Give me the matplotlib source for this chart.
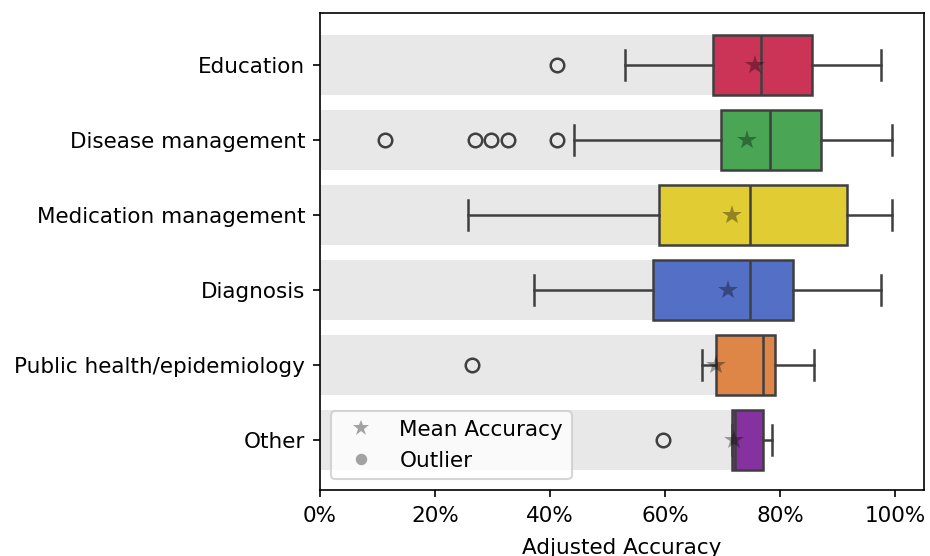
import matplotlib
matplotlib.use("Agg")
import matplotlib.pyplot as plt
from matplotlib.lines import Line2D
from matplotlib.ticker import FuncFormatter

categories = ["Education", "Disease management", "Medication management",
              "Diagnosis", "Public health/epidemiology", "Other"]
colors = ["#CB3357", "#4AA655", "#E1CC33", "#546FC6", "#DE8548", "#8631A0"]

# box statistics, in percent
whislo = [53.0, 44.1, 25.8, 37.3, 66.4, 71.6]
q1 = [68.3, 69.7, 58.9, 57.9, 68.9, 71.6]
med = [76.7, 78.2, 74.7, 74.7, 77.1, 72.2]
q3 = [85.6, 87.1, 91.6, 82.2, 79.1, 77.1]
whishi = [97.5, 99.5, 99.5, 97.5, 85.9, 78.6]
means = [75.6, 74.2, 71.6, 70.9, 68.8, 71.9]
fliers = [[41.2], [11.3, 27.0, 29.8, 32.7, 41.2], [], [], [26.5], [59.7]]

FS = 10.3

fig = plt.figure(figsize=(6.2, 556 / 150), dpi=150)
ax = fig.add_axes([0.344, 0.1187, 0.6495, 0.858])

pos = list(range(len(categories)))

# mean accuracy as a gray bar behind each box
ax.barh(pos, means, height=0.8, color="#e8e8e8", zorder=0)

stats = []
for i, name in enumerate(categories):
    stats.append(dict(label=name, whislo=whislo[i], q1=q1[i], med=med[i],
                      q3=q3[i], whishi=whishi[i], mean=means[i],
                      fliers=fliers[i]))

edge = "#3f3f3f"
star = (0, 0, 0, 0.35)
bp = ax.bxp(stats, positions=pos, widths=0.8, orientation="horizontal",
            patch_artist=True, showmeans=True, manage_ticks=False,
            boxprops=dict(edgecolor=edge, linewidth=1.2),
            medianprops=dict(color=edge, linewidth=1.2),
            whiskerprops=dict(color=edge, linewidth=1.2),
            capprops=dict(color=edge, linewidth=1.2),
            flierprops=dict(marker="o", markerfacecolor="none",
                            markeredgecolor=edge, markersize=6.5,
                            markeredgewidth=1.2),
            meanprops=dict(marker="*", markerfacecolor=star,
                           markeredgewidth=0, markersize=10))
for patch, c in zip(bp["boxes"], colors):
    patch.set_facecolor(c)

ax.set_yticks(pos)
ax.set_yticklabels(categories, fontsize=FS)
ax.set_ylim(5.67, -0.69)
ax.set_xlim(0, 105)
ax.set_xticks([0, 20, 40, 60, 80, 100])
ax.xaxis.set_major_formatter(FuncFormatter(lambda v, p: f"{v:.0f}%"))
ax.tick_params(labelsize=FS)
ax.tick_params(axis="x", pad=4.3)
ax.set_xlabel("Adjusted Accuracy", fontsize=FS, labelpad=5.5)

handles = [
    Line2D([], [], linestyle="none", marker="*", markerfacecolor=star,
           markeredgewidth=0, markersize=8, label="Mean Accuracy"),
    Line2D([], [], linestyle="none", marker="o", markerfacecolor=star,
           markeredgewidth=0, markersize=5.5, label="Outlier"),
]
ax.legend(handles=handles, loc="lower left", fontsize=FS)

fig.savefig("out.png", dpi=150)
